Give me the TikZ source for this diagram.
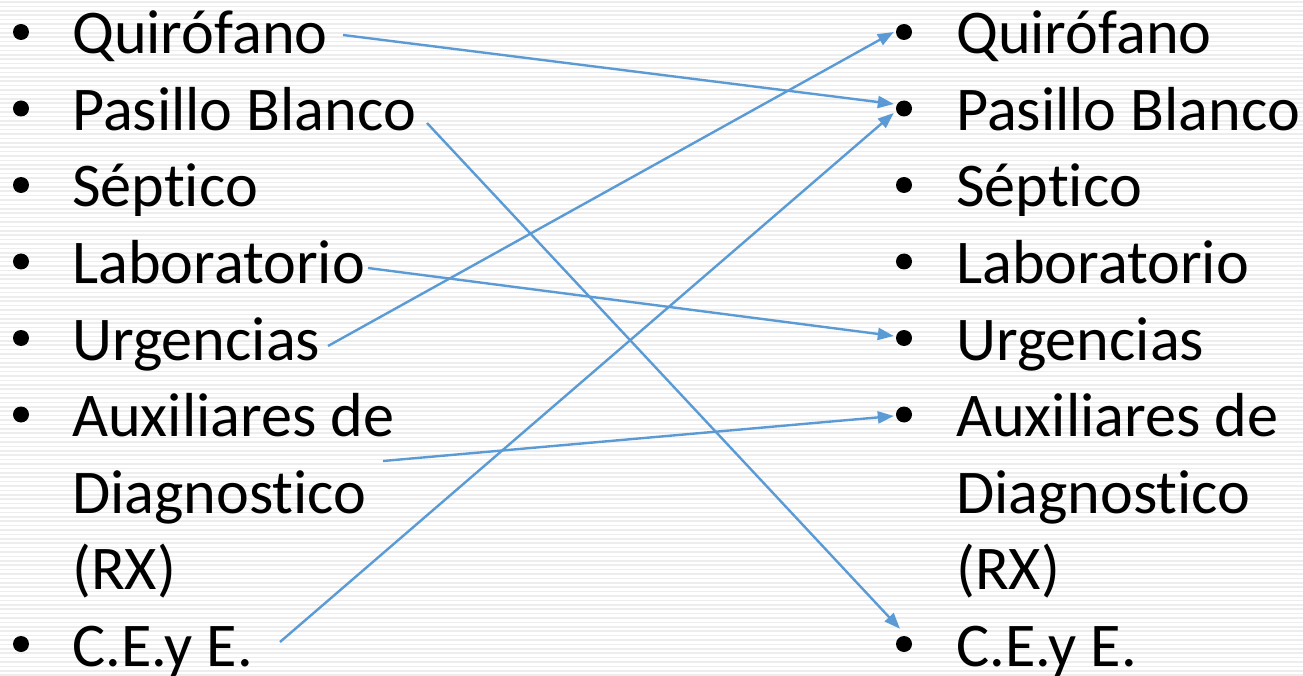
\documentclass[tikz,border=0pt]{standalone}
\usepackage{fontspec}
\setmainfont{Carlito}[Ligatures=NoCommon]
\usetikzlibrary{arrows.meta, positioning, calc}
\definecolor{azulFlecha}{HTML}{5B9BD5}
\definecolor{rayaFondo}{HTML}{EDEDED}

\begin{document}
\begin{tikzpicture}[x=1pt, y=1pt, font=\fontsize{62.2}{76.5}\selectfont,
        it/.style={anchor=base west, inner sep=0pt},
        pt/.style={circle, fill=black, inner sep=0pt, minimum size=16pt},
        fl/.style={-{Triangle[length=16pt, width=12pt]}, azulFlecha, line width=2.4pt},
        raya/.style={rayaFondo, line width=1.6pt}]
        \useasboundingbox (0,0) rectangle (1303,-676);
        \fill[white] (0,0) rectangle (1303,-676);
        \foreach \s in {2,6.4,...,676} \draw[raya] (0,-\s) -- (1303,-\s);
        % las dos listas
        \foreach \t [count=\i, evaluate=\i as \yb using -54-76.5*(\i-1)] in
            {Quirófano, Pasillo Blanco, Séptico, Laboratorio, Urgencias,
             Auxiliares de, Diagnostico, {(RX)}, C.E.y E.} {
            \node[it] (l\i) at (72,\yb) {\t};
            \node[it] (r\i) at (956,\yb) {\t};
        }
        \foreach \i [evaluate=\i as \yp using -32-76.5*(\i-1)] in {1,...,6,9} {
            \node[pt] (bl\i) at (21,\yp) {};
            \node[pt] (br\i) at (904,\yp) {};
        }
        % salidas de las flechas
        \coordinate (aQui) at (343,-35);
        \coordinate (aPas) at (427,-123);
        \coordinate (aLab) at (368,-268);
        \coordinate (aUrg) at (328,-346);
        \coordinate (aAux) at (383,-461);
        \coordinate (aCE) at (280,-642);
        \draw[fl] (aQui) -- ([shift={(-2,4.5)}]br2.west);
        \draw[fl] (aPas) -- ([shift={(-4,7)}]br9.north);
        \draw[fl] (aLab) -- ([shift={(-2,2)}]br5.west);
        \draw[fl] (aUrg) -- ([shift={(-2,0)}]br1.west);
        \draw[fl] (aAux) -- ([shift={(-2,-1.5)}]br6.west);
        \draw[fl] (aCE) -- ([shift={(-2,-4.5)}]br2.west);
    \end{tikzpicture}
\end{document}
